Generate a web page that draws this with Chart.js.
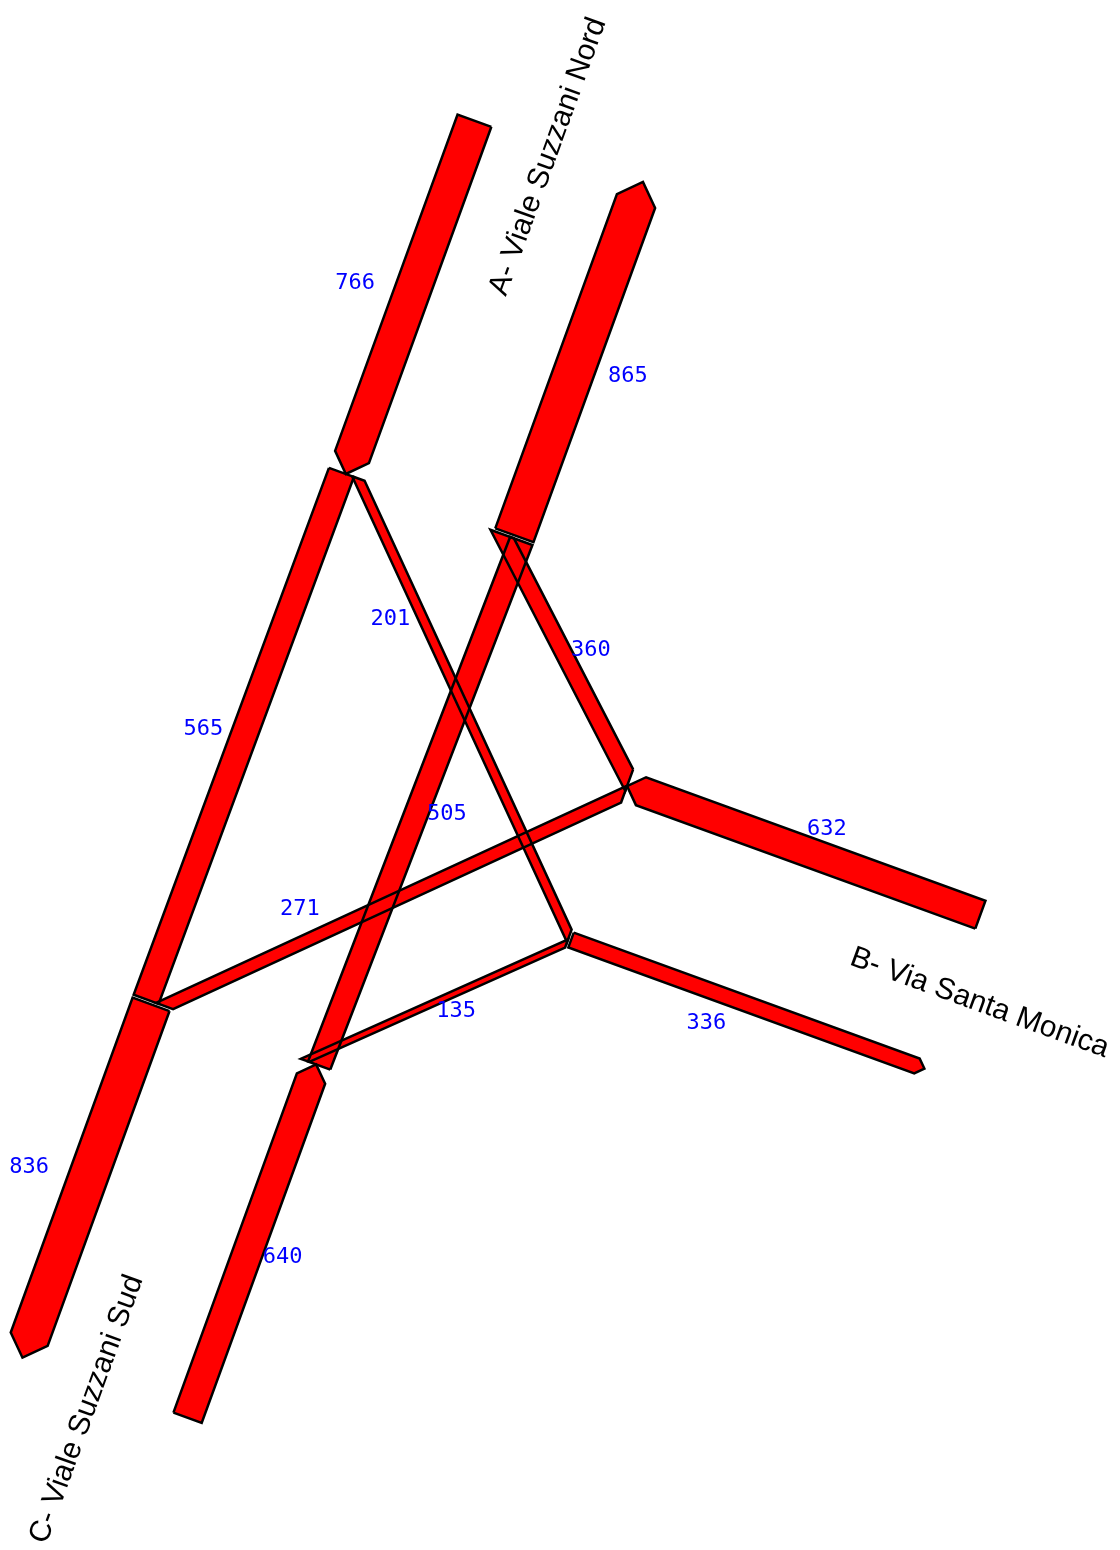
<!DOCTYPE html>
<html>
<head>
<meta charset="utf-8">
<script src="https://cdn.jsdelivr.net/npm/chart.js@4.4.1/dist/chart.umd.min.js"></script>
<style>
  html, body { margin: 0; padding: 0; background: #fff; }
  #wrap { width: 1120px; height: 1550px; }
</style>
</head>
<body>
<div id="wrap"><canvas id="flows" width="1120" height="1550"></canvas></div>
<script>
// ----------------- DATA (vehicles) -----------------

const armKeys = ['A', 'B', 'C'];
const armNames = ['A- Viale Suzzani Nord', 'B- Via Santa Monica', 'C- Viale Suzzani Sud'];
const armInflow = [766, 632, 640];
const armOutflow = [865, 336, 836];

const flowFrom = ['A', 'A', 'B', 'B', 'C', 'C'];
const flowTo = ['C', 'B', 'A', 'C', 'A', 'B'];
const flowValues = [565, 201, 360, 271, 505, 135];

// ----------------- LAYOUT -----------------

const PX_PER_VEH = 0.047;          // band width per vehicle
const CENTER = { x: 332.4, y: 769.7 };
const ROT = 20 * Math.PI / 180;
const U = { x: Math.sin(ROT), y: -Math.cos(ROT) };   // towards A
const V = { x: Math.cos(ROT), y: Math.sin(ROT) };    // towards B
const BOX = 282.5;       // half size of the junction
const ARM_LEN = 376;
const MEDIAN_GAP = 70.5; // half gap between in and out lanes
const END_GAP = 3;       // small gap before the outgoing band

const armDir = { A: [1, 0], B: [0, 1], C: [-1, 0] };
// lanes, listed from the median outwards
const inOrder = { A: ['B', 'C'], B: ['C', 'A'], C: ['B', 'A'] };
const outOrder = { A: ['B', 'C'], B: ['A', 'C'], C: ['B', 'A'] };

// label anchors in junction coords (along A, along B)
const inLabelAt = { A: [465, -145], B: [113, 485], C: [-475, 120] };
const outLabelAt = { A: [471, 143], B: [-110, 438], C: [-477, -149] };
const flowLabelAt = [[-6, -135], [161, 3], [201, 202], [-142, 17], [-3, 123], [-185, 199]];
const nameLabelAt = { A: [650, -7], B: [2, 688], C: [-685, -12] };
const nameAngle = { A: -70, B: 20, C: -70 };

// ----------------- GEOMETRY -----------------

function toXY(p) {
    return { x: CENTER.x + p[0] * U.x + p[1] * V.x, y: CENTER.y + p[0] * U.y + p[1] * V.y };
}
function normal(k) { const d = armDir[k]; return [d[1], -d[0]]; }
function at(k, dist, off) {
    const d = armDir[k], n = normal(k);
    return [dist * d[0] + off * n[0], dist * d[1] + off * n[1]];
}
function flowOf(a, b) {
    for (let i = 0; i < flowValues.length; i++) {
        if (flowFrom[i] === a && flowTo[i] === b) return flowValues[i];
    }
    return 0;
}
const cross = (a, b) => a[0] * b[1] - a[1] * b[0];
function cut(P, dir, C0, e) {
    const lam = -cross([P[0] - C0[0], P[1] - C0[1]], e) / cross(dir, e);
    return [P[0] + lam * dir[0], P[1] + lam * dir[1]];
}

function inBand(k, val) {
    const w = val * PX_PER_VEH, c = MEDIAN_GAP + w / 2, far = BOX + ARM_LEN;
    return [at(k, far, c - w / 2), at(k, far, c + w / 2), at(k, BOX + w / 2, c + w / 2),
            at(k, BOX, c), at(k, BOX + w / 2, c - w / 2)];
}
function outBand(k, val) {
    const w = val * PX_PER_VEH, c = -(MEDIAN_GAP + w / 2), far = BOX + ARM_LEN;
    return [at(k, BOX, c + w / 2), at(k, far - w / 2, c + w / 2), at(k, far, c),
            at(k, far - w / 2, c - w / 2), at(k, BOX, c - w / 2)];
}
function link(from, to, val) {
    const w = val * PX_PER_VEH;
    let cumS = 0;
    for (const k of inOrder[from]) { if (k === to) break; cumS += flowOf(from, k); }
    let cumE = 0;
    for (const k of outOrder[to]) { if (k === from) break; cumE += flowOf(k, to); }
    const S = at(from, BOX, MEDIAN_GAP + cumS * PX_PER_VEH + w / 2);
    const E = at(to, BOX - END_GAP, -(MEDIAN_GAP + cumE * PX_PER_VEH + w / 2));
    const nS = normal(from), nE = normal(to);
    const len = Math.hypot(E[0] - S[0], E[1] - S[1]);
    const dl = [(E[0] - S[0]) / len, (E[1] - S[1]) / len];
    const pl = [-dl[1], dl[0]];
    const side = h => [S[0] + h * pl[0], S[1] + h * pl[1]];
    return [cut(side(w / 2), dl, S, nS), cut(side(w / 2), dl, E, nE),
            cut(side(-w / 2), dl, E, nE), cut(side(-w / 2), dl, S, nS)];
}

const polygons = [];
armKeys.forEach((k, i) => {
    polygons.push(inBand(k, armInflow[i]));
    polygons.push(outBand(k, armOutflow[i]));
});
flowValues.forEach((v, i) => polygons.push(link(flowFrom[i], flowTo[i], v)));

const datasets = [];
polygons.forEach(poly => {
    const pts = poly.map(toXY);
    pts.push(pts[0]);
    datasets.push({
        data: pts, showLine: true, fill: false, pointRadius: 0,
        borderColor: '#000000', borderWidth: 2.5, borderJoinStyle: 'miter', order: 0
    });
    datasets.push({
        data: pts, showLine: true, fill: 'shape', pointRadius: 0,
        backgroundColor: '#ff0000', borderColor: 'rgba(0,0,0,0)', borderWidth: 1, order: 1
    });
});

// ----------------- LABELS -----------------

const labelPlugin = {
    id: 'flowLabels',
    afterDatasetsDraw(chart) {
        const { ctx, scales: { x, y } } = chart;
        const px = p => { const q = toXY(p); return [x.getPixelForValue(q.x), y.getPixelForValue(q.y)]; };
        ctx.save();
        ctx.textAlign = 'center';
        ctx.textBaseline = 'middle';
        ctx.fillStyle = '#0000ff';
        ctx.font = '22px "DejaVu Sans Mono"';
        armKeys.forEach((k, i) => {
            let [a, b] = px(inLabelAt[k]);
            ctx.fillText(String(armInflow[i]), a, b);
            [a, b] = px(outLabelAt[k]);
            ctx.fillText(String(armOutflow[i]), a, b);
        });
        flowValues.forEach((v, i) => {
            const [a, b] = px(flowLabelAt[i]);
            ctx.fillText(String(v), a, b);
        });
        ctx.fillStyle = '#000000';
        ctx.font = '30px "Liberation Sans", Arial, sans-serif';
        armKeys.forEach((k, i) => {
            const [a, b] = px(nameLabelAt[k]);
            ctx.save();
            ctx.translate(a, b);
            ctx.rotate(nameAngle[k] * Math.PI / 180);
            ctx.fillText(armNames[i], 0, 0);
            ctx.restore();
        });
        ctx.restore();
    }
};

new Chart(document.getElementById('flows').getContext('2d'), {
    type: 'scatter',
    data: { datasets: datasets },
    options: {
        responsive: false,
        animation: false,
        devicePixelRatio: 1,
        layout: { padding: 0 },
        plugins: { legend: { display: false }, tooltip: { enabled: false } },
        elements: { line: { tension: 0 } },
        scales: {
            x: { type: 'linear', min: 0, max: 1120, display: false },
            y: { type: 'linear', min: 0, max: 1550, reverse: true, display: false }
        }
    },
    plugins: [labelPlugin]
});
</script>
</body>
</html>
